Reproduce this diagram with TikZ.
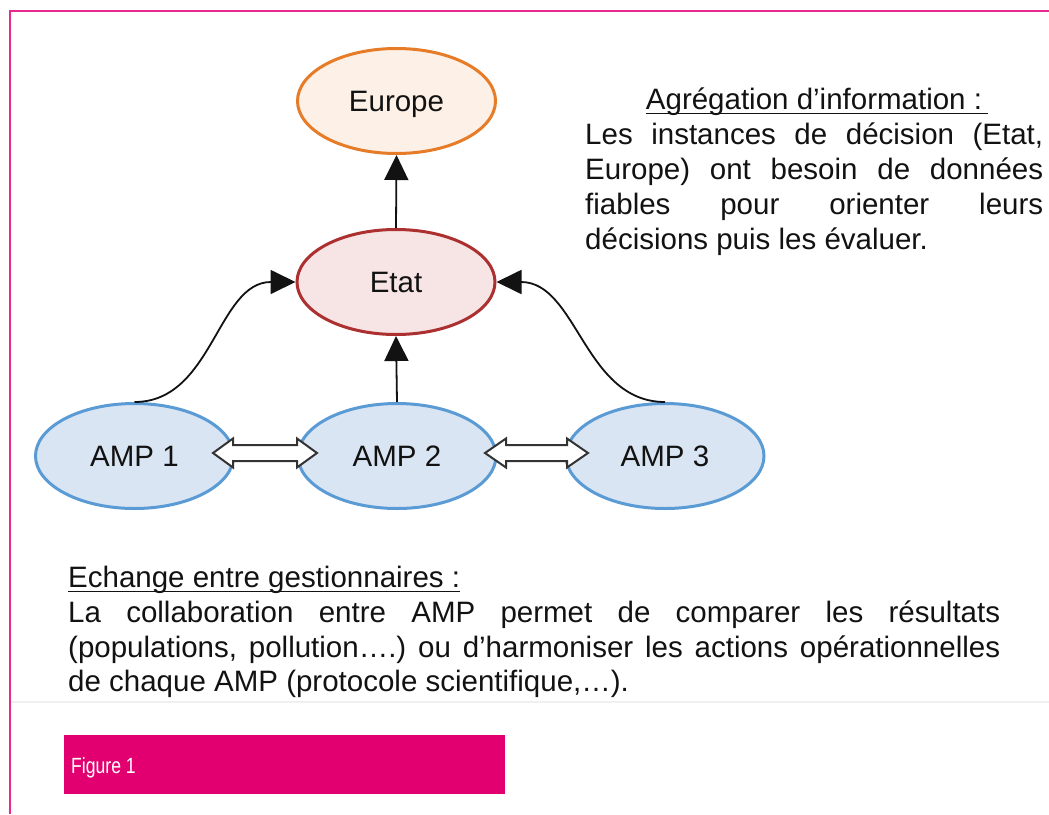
\documentclass[tikz,border=0pt]{standalone}
\usepackage{fontspec}
\setmainfont{Liberation Sans}
\newfontfamily\condfont[FakeStretch=0.8]{Liberation Sans}
\usetikzlibrary{arrows.meta,shapes.geometric}
\definecolor{framepink}{RGB}{232,40,140}
\definecolor{figmag}{RGB}{226,0,112}
\definecolor{eufill}{RGB}{253,240,230}
\definecolor{eudraw}{RGB}{230,124,40}
\definecolor{etfill}{RGB}{247,228,228}
\definecolor{etdraw}{RGB}{172,48,48}
\definecolor{ampfill}{RGB}{218,229,243}
\definecolor{ampdraw}{RGB}{91,155,213}
\definecolor{txt}{RGB}{18,18,18}
\newcommand{\bodyfont}{\fontsize{29.5pt}{35pt}\selectfont}
\frenchspacing
\begin{document}
\begin{tikzpicture}[x=1pt,y=-1pt,
  oval/.style={shape=ellipse,inner sep=0pt,minimum width=198pt,minimum height=105pt,line width=3pt,
    font=\bodyfont,text=txt,text height=21pt,text depth=0pt},
  europebox/.style={oval,draw=eudraw,fill=eufill},
  etatbox/.style={oval,draw=etdraw,fill=etfill},
  ampbox/.style={oval,draw=ampdraw,fill=ampfill},
  link/.style={line width=1.8pt,draw=txt,-{Triangle[length=25pt,width=24pt]}},
  blockarrow/.style={draw=black!80,line width=2pt,fill=white,line join=miter},
  txtline/.style={anchor=base west,inner sep=0pt,font=\bodyfont,text=txt},
  uline/.style={line width=1.8pt,draw=txt}
]
\useasboundingbox (0,0) rectangle (1049,814);
\fill[white] (0,0) rectangle (1049,814);
% frame
\draw[framepink,line width=2pt] (10,814) -- (10,11) -- (1049,11);
\draw[black!6,line width=2pt] (11,702) -- (1049,702);

% nodes
\node[europebox] (europe) at (396.5,101) {Europe};
\node[etatbox] (etat) at (396,282) {Etat};
\node[ampbox] (amp1) at (134.5,456) {AMP 1};
\node[ampbox] (amp2) at (397,456) {AMP 2};
\node[ampbox] (amp3) at (665,456) {AMP 3};

% connectors
\draw[link] (etat.north) -- (europe.south);
\draw[link] (amp2.north) -- (etat.south);
\draw[link] (amp1.north) to[out=0,in=180] (etat.west);
\draw[link] (amp3.north) to[out=180,in=0] (etat.east);

% double block arrows
\draw[blockarrow] (213,453) -- ++(20,-14.5) -- ++(0,6.5) -- ++(64,0) -- ++(0,-6.5)
  -- ++(20,14.5) -- ++(-20,14.5) -- ++(0,-6.5) -- ++(-64,0) -- ++(0,6.5) -- cycle;
\draw[blockarrow] (485,453) -- ++(21,-14.5) -- ++(0,6.5) -- ++(61,0) -- ++(0,-6.5)
  -- ++(21,14.5) -- ++(-21,14.5) -- ++(0,-6.5) -- ++(-61,0) -- ++(0,6.5) -- cycle;

% top-right text
\node[anchor=base,inner sep=0pt,font=\bodyfont,text=txt] (ttitle) at (814,109) {Agrégation d’information :};
\draw[uline] ([yshift=-4.5pt]ttitle.base west) -- ([xshift=6pt,yshift=-4.5pt]ttitle.base east);
\node[txtline] (t1) at (585,144) {\makebox[458pt][s]{Les instances de décision (Etat,}};
\node[txtline] (t2) at (585,179) {\makebox[458pt][s]{Europe) ont besoin de données}};
\node[txtline] (t3) at (585,214) {\makebox[458pt][s]{fiables pour orienter leurs}};
\node[txtline] (t4) at (585,249) {décisions puis les évaluer.};

% bottom text
\node[txtline] (btitle) at (68,587) {Echange entre gestionnaires :};
\draw[uline] ([yshift=-4.5pt]btitle.base west) -- ([yshift=-4.5pt]btitle.base east);
\node[txtline] (b1) at (68,622) {\makebox[932pt][s]{La collaboration entre AMP permet de comparer les résultats}};
\node[txtline] (b2) at (68,657) {\makebox[932pt][s]{(populations, pollution….) ou d\char39 harmoniser les actions opérationnelles}};
\node[txtline] (b3) at (68,691) {de chaque AMP (protocole scientifique,…).};

% figure label
\fill[figmag] (64,735) rectangle (505,794);
\node[anchor=base west,inner sep=0pt,text=white,font=\condfont\fontsize{22pt}{26pt}\selectfont] (fig) at (71,773) {Figure 1};
\end{tikzpicture}
\end{document}
